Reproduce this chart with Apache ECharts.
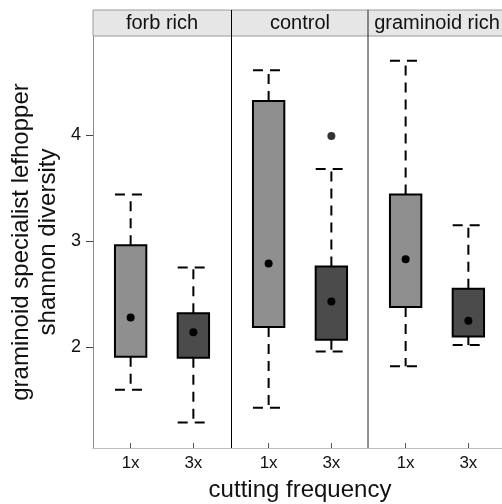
<!DOCTYPE html>
<html><head><meta charset="utf-8">
<script src="https://cdn.jsdelivr.net/npm/echarts@6/dist/echarts.min.js"></script>
<style>html,body{margin:0;padding:0;background:#fff}#c{width:502px;height:504px}</style>
</head><body><div id="c"></div>
<script>
// ---- data ----
const panels = ['forb rich', 'control', 'graminoid rich'];
const freqLabels = ['1x', '3x'];
const yTicks = [2, 3, 4];
// rows = panels, columns = [1x, 3x]
const lowerWhisker = [[1.60, 1.29], [1.43, 1.96], [1.82, 2.02]];
const q1           = [[1.91, 1.90], [2.19, 2.07], [2.38, 2.10]];
const median       = [[2.28, 2.14], [2.79, 2.43], [2.83, 2.25]];
const q3           = [[2.96, 2.32], [4.32, 2.76], [3.44, 2.55]];
const upperWhisker = [[3.44, 2.75], [4.61, 3.68], [4.70, 3.15]];
const outlierPanel = [1];
const outlierFreq  = [2];
const outlierValue = [3.99];

// ---- style / layout ----
const fills = ['#8f8f8f', '#4b4b4b'];
const FONT = 'Liberation Sans, Arial, Helvetica, sans-serif';
const yMin = 1.05, yMax = 4.933;
const gridLeft = [93, 231, 368];
const gridW = 138, gridTop = 36, gridH = 412;

function renderBox(params, api) {
  const x = api.value(0);
  const pLo = api.coord([x, api.value(1)]);
  const pA = api.coord([x, api.value(2)]);
  const pM = api.coord([x, api.value(3)]);
  const pB = api.coord([x, api.value(4)]);
  const pHi = api.coord([x, api.value(5)]);
  const hw = api.size([0.5, 0])[0] / 2;
  const dash = { stroke: '#000', lineWidth: 2, lineDash: [10, 7], fill: null };
  return {
    type: 'group',
    children: [
      { type: 'line', shape: { x1: pB[0], y1: pB[1], x2: pHi[0], y2: pHi[1] }, style: dash },
      { type: 'line', shape: { x1: pA[0], y1: pA[1], x2: pLo[0], y2: pLo[1] }, style: dash },
      { type: 'line', shape: { x1: pHi[0] - hw, y1: pHi[1], x2: pHi[0] + hw, y2: pHi[1] }, style: dash },
      { type: 'line', shape: { x1: pLo[0] - hw, y1: pLo[1], x2: pLo[0] + hw, y2: pLo[1] }, style: dash },
      { type: 'rect', shape: { x: pB[0] - hw, y: pB[1], width: 2 * hw, height: pA[1] - pB[1] },
        style: { fill: fills[Math.round(x) - 1], stroke: '#000', lineWidth: 2 } },
      { type: 'circle', shape: { cx: pM[0], cy: pM[1], r: 4 }, style: { fill: '#000' } }
    ]
  };
}

const grids = [], xAxes = [], yAxes = [], series = [];
panels.forEach((name, p) => {
  grids.push({ left: gridLeft[p], top: gridTop, width: gridW, height: gridH,
    containLabel: false, outerBoundsMode: 'none' });
  xAxes.push({
    type: 'value', gridIndex: p, min: 0.4, max: 2.6,
    axisLine: { show: true, onZero: false, lineStyle: { color: '#bdbdbd', width: 1 } },
    axisTick: { show: true, inside: true, length: 5, customValues: [1, 2], lineStyle: { color: '#555' } },
    axisLabel: { customValues: [1, 2], formatter: v => freqLabels[Math.round(v) - 1],
      fontSize: 17, color: '#111', margin: 7, fontFamily: FONT },
    splitLine: { show: false },
    name: p === 1 ? 'cutting frequency' : '',
    nameLocation: 'middle', nameGap: 30, nameMoveOverlap: false,
    nameTextStyle: { fontSize: 24, color: '#111', fontFamily: FONT }
  });
  yAxes.push({
    type: 'value', gridIndex: p, min: yMin, max: yMax,
    show: p === 0,
    axisLine: { show: true, onZero: false, lineStyle: { color: '#8a8a8a', width: 1 } },
    axisTick: { show: true, inside: false, length: 7, customValues: yTicks, lineStyle: { color: '#444', width: 1 } },
    axisLabel: { customValues: yTicks, fontSize: 18, color: '#111', margin: 12, fontFamily: FONT },
    splitLine: { show: false },
    name: p === 0 ? 'graminoid specialist lefhopper\nshannon diversity' : '',
    nameLocation: 'middle', nameGap: 31, nameMoveOverlap: false,
    nameTextStyle: { fontSize: 24, lineHeight: 27, color: '#111', fontFamily: FONT }
  });
  series.push({
    type: 'custom', xAxisIndex: p, yAxisIndex: p,
    renderItem: renderBox,
    encode: { x: 0, y: [1, 2, 3, 4, 5] },
    data: freqLabels.map((f, i) => [i + 1, lowerWhisker[p][i], q1[p][i], median[p][i], q3[p][i], upperWhisker[p][i]]),
    clip: false, silent: true, animation: false
  });
  const outs = [];
  outlierPanel.forEach((op, k) => { if (op === p) outs.push([outlierFreq[k], outlierValue[k]]); });
  if (outs.length) {
    series.push({
      type: 'scatter', xAxisIndex: p, yAxisIndex: p, data: outs,
      symbol: 'circle', symbolSize: 8, itemStyle: { color: '#000' }, silent: true, animation: false
    });
  }
});

const graphic = [
  { type: 'rect', shape: { x: 93, y: 10, width: 420, height: 26 },
    style: { fill: '#e6e6e6', stroke: '#9a9a9a', lineWidth: 1 }, z: 10 },
  { type: 'line', shape: { x1: 231.5, y1: 10, x2: 231.5, y2: 448 }, style: { stroke: '#000', lineWidth: 1 }, z: 11 },
  { type: 'line', shape: { x1: 368, y1: 10, x2: 368, y2: 448 }, style: { stroke: '#222', lineWidth: 1 }, z: 11 }
];
panels.forEach((name, p) => {
  graphic.push({ type: 'text', x: gridLeft[p] + gridW / 2, y: 23.5, z: 12,
    style: { text: name, fontSize: 20, fontFamily: FONT, fill: '#111', align: 'center', verticalAlign: 'middle' } });
});

const chart = echarts.init(document.getElementById('c'), null, { renderer: 'canvas' });
chart.setOption({
  backgroundColor: '#fff',
  animation: false,
  grid: grids, xAxis: xAxes, yAxis: yAxes, series: series, graphic: graphic
});
</script></body></html>
